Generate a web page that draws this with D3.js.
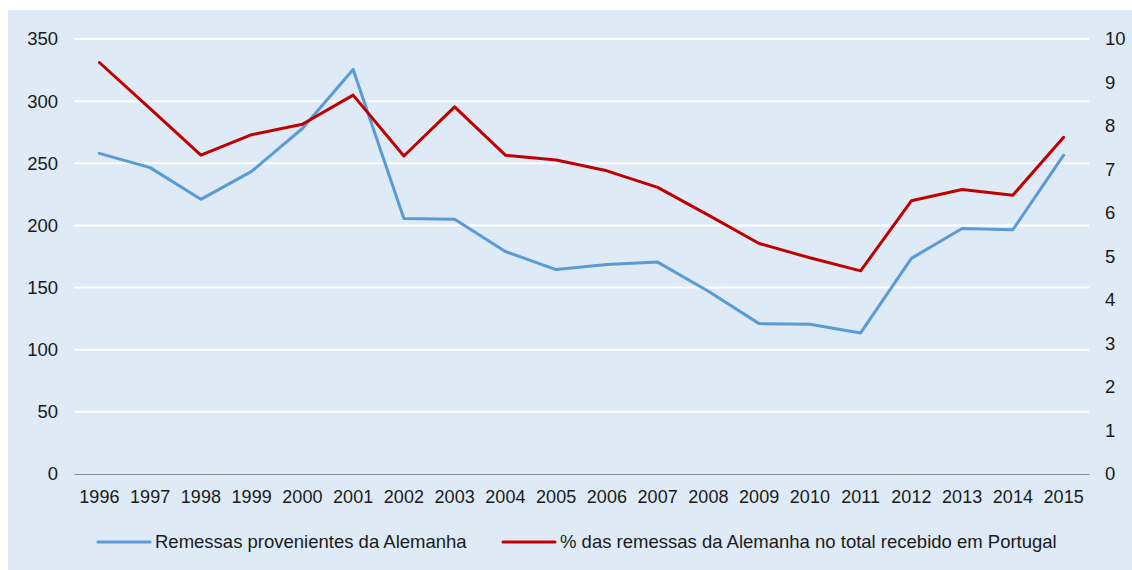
<!DOCTYPE html>
<html>
<head>
<meta charset="utf-8">
<script src="https://cdn.jsdelivr.net/npm/d3@7/dist/d3.min.js"></script>
<style>
  html, body { margin: 0; padding: 0; background: #ffffff; }
  svg { display: block; }
  text { font-family: "Liberation Sans", Arial, sans-serif; fill: #1a1a1a; }
</style>
</head>
<body>
<svg id="chart" width="1132" height="570"></svg>
<script>
// Years on the category axis
const years = ["1996","1997","1998","1999","2000","2001","2002","2003","2004","2005",
               "2006","2007","2008","2009","2010","2011","2012","2013","2014","2015"];

// Remittances from Germany (left axis, millions of euros)
const remessas = [258, 246.5, 221, 243.5, 278, 325.5, 205.5, 205, 179, 164.5,
                  168.5, 170.5, 147, 121, 120.5, 113.5, 173.5, 197.5, 196.5, 256.5];

// Share of Germany in total remittances received in Portugal (right axis, %)
const percentagem = [9.46, 8.4, 7.33, 7.8, 8.04, 8.71, 7.31, 8.44, 7.33, 7.22,
                     6.97, 6.59, 5.95, 5.3, 4.97, 4.67, 6.28, 6.54, 6.41, 7.74];

const leftTicks = [0, 50, 100, 150, 200, 250, 300, 350];
const rightTicks = [0, 1, 2, 3, 4, 5, 6, 7, 8, 9, 10];

const seriesNames = ["Remessas provenientes da Alemanha",
                     "% das remessas da Alemanha no total recebido em Portugal"];
const colors = ["#5B9BD5", "#C00000"];

const FONT = "Liberation Sans, Arial, sans-serif";
const FS = 18.5;

const svg = d3.select("#chart");

// panel background
svg.append("rect")
  .attr("x", 8).attr("y", 10)
  .attr("width", 1124).attr("height", 560)
  .attr("fill", "#DEEAF6");

const plot = { left: 74, right: 1089, top: 39, bottom: 474 };

const x = d3.scaleBand().domain(years).range([plot.left, plot.right]);
const yL = d3.scaleLinear().domain([0, 350]).range([plot.bottom, plot.top]);
const yR = d3.scaleLinear().domain([0, 10]).range([plot.bottom, plot.top]);
const cx = d => x(d) + x.bandwidth() / 2;

// horizontal gridlines
svg.append("g")
  .selectAll("line")
  .data(leftTicks.filter(t => t > 0))
  .join("line")
  .attr("x1", plot.left).attr("x2", plot.right)
  .attr("y1", d => yL(d)).attr("y2", d => yL(d))
  .attr("stroke", "#ffffff").attr("stroke-width", 2);

// left axis
const axL = svg.append("g")
  .attr("transform", `translate(${plot.left - 16},0)`)
  .call(d3.axisLeft(yL).tickValues(leftTicks).tickSize(0).tickPadding(0));
axL.select(".domain").remove();
axL.selectAll("text").attr("font-size", FS).attr("fill", "#1a1a1a")
  .attr("font-family", FONT);

// right axis
const axR = svg.append("g")
  .attr("transform", `translate(${plot.right + 16},0)`)
  .call(d3.axisRight(yR).tickValues(rightTicks).tickSize(0).tickPadding(0));
axR.select(".domain").remove();
axR.selectAll("text").attr("font-size", FS).attr("fill", "#1a1a1a")
  .attr("font-family", FONT);

// category axis
const axX = svg.append("g")
  .attr("transform", `translate(0,${plot.bottom})`)
  .call(d3.axisBottom(x).tickSize(0).tickPadding(16));
axX.select(".domain").attr("stroke", "#8c8c8c").attr("stroke-width", 1.2);
axX.selectAll("text").attr("font-size", 18).attr("fill", "#1a1a1a")
  .attr("font-family", FONT);

// lines
const lineL = d3.line().x((d, i) => cx(years[i])).y(d => yL(d));
const lineR = d3.line().x((d, i) => cx(years[i])).y(d => yR(d));

svg.append("path")
  .datum(remessas)
  .attr("d", lineL)
  .attr("fill", "none")
  .attr("stroke", colors[0])
  .attr("stroke-width", 3)
  .attr("stroke-linejoin", "round")
  .attr("stroke-linecap", "round");

svg.append("path")
  .datum(percentagem)
  .attr("d", lineR)
  .attr("fill", "none")
  .attr("stroke", colors[1])
  .attr("stroke-width", 3)
  .attr("stroke-linejoin", "round")
  .attr("stroke-linecap", "round");

// legend
const legendItems = [
  { name: seriesNames[0], color: colors[0], x: 98 },
  { name: seriesNames[1], color: colors[1], x: 503 }
];
const lg = svg.append("g").attr("transform", "translate(0,542)");
const li = lg.selectAll("g").data(legendItems).join("g")
  .attr("transform", d => `translate(${d.x},0)`);
li.append("line")
  .attr("x1", 0).attr("x2", 52).attr("y1", 0).attr("y2", 0)
  .attr("stroke", d => d.color).attr("stroke-width", 3)
  .attr("stroke-linecap", "round");
li.append("text")
  .attr("x", 57).attr("y", 0).attr("dy", "0.35em")
  .attr("font-size", FS)
  .attr("font-family", FONT)
  .text(d => d.name);
</script>
</body>
</html>
